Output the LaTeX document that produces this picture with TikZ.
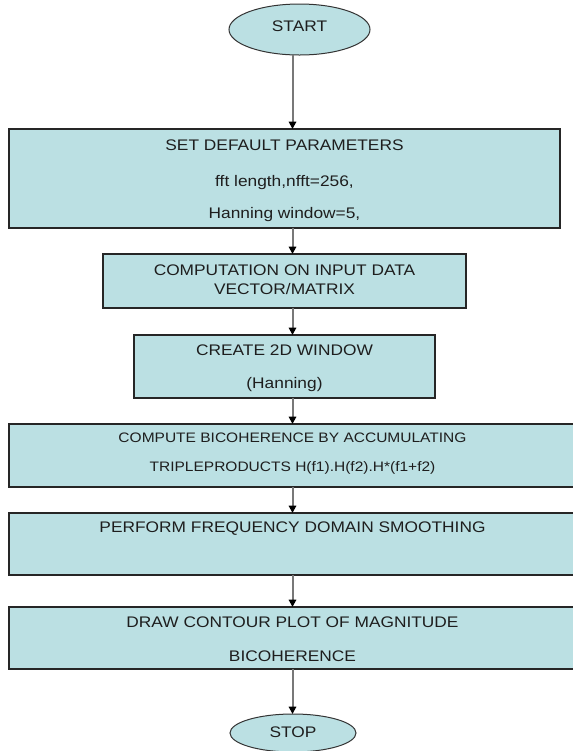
\documentclass[tikz,border=0pt]{standalone}
\usepackage{fontspec}
\setmainfont{Liberation Sans}[FakeStretch=1.13]
\usetikzlibrary{shapes.geometric,arrows.meta}
\definecolor{boxfill}{RGB}{187,224,227}
\definecolor{txt}{RGB}{30,30,30}
\definecolor{conn}{RGB}{120,120,120}
\tikzset{
 procbox/.style={draw=black!85, line width=0.9pt, fill=boxfill, rectangle, inner sep=0pt, outer sep=0pt},
 termnode/.style={draw=black!80, line width=0.75pt, fill=boxfill, ellipse, inner sep=0pt, outer sep=0pt},
 lbl/.style={anchor=base, inner sep=0pt, text=txt, font=\fontsize{11.5}{13}\selectfont},
 lblsmall/.style={lbl, font=\fontsize{10.3}{12}\selectfont},
 flow/.style={draw=conn, line width=1.5pt, -{Triangle[length=5.5pt,width=5.5pt,color=black]}}
}
\begin{document}
\begin{tikzpicture}[x=0.75pt,y=-0.75pt]
\useasboundingbox (0,0) rectangle (573,751);
\clip (0,0) rectangle (573,751);
\fill[white] (0,0) rectangle (573,751);
\coordinate (ax) at (292.5,0);
% terminals
\node[termnode, minimum width=105.75pt, minimum height=38.25pt] (start) at (299.5,29.5) {};
\node[termnode, minimum width=94.5pt, minimum height=28.5pt] (stop) at (293,733) {};
% process boxes
\node[procbox, minimum width=413.25pt, minimum height=74.25pt] (b1) at (284.5,178.5) {};
\node[procbox, minimum width=272.25pt, minimum height=40.5pt] (b2) at (284.5,281) {};
\node[procbox, minimum width=225.75pt, minimum height=47.25pt] (b3) at (284.5,366.5) {};
\node[procbox, minimum width=425.25pt, minimum height=47.25pt] (b4) at (292.5,455.5) {};
\node[procbox, minimum width=425.25pt, minimum height=46.5pt] (b5) at (292.5,544) {};
\node[procbox, minimum width=425.25pt, minimum height=46.5pt] (b6) at (292.5,638) {};
% texts
\node[lbl] (tstart) at (299.5,31) {START};
\node[lbl] (tstop) at (293,737.5) {STOP};
\node[lbl] (t1a) at (284.5,150.5) {SET DEFAULT PARAMETERS};
\node[lbl] (t1b) at (284.5,186.5) {fft length,nfft=256,};
\node[lbl] (t1c) at (284.5,218.5) {Hanning window=5,};
\node[lbl] (t2a) at (284.5,275.5) {COMPUTATION ON INPUT DATA};
\node[lbl] (t2b) at (284.5,294.5) {VECTOR/MATRIX};
\node[lbl] (t3a) at (284.5,355.5) {CREATE 2D WINDOW};
\node[lbl] (t3b) at (284.5,388.5) {(Hanning)};
\node[lblsmall] (t4a) at (292.5,442) {COMPUTE BICOHERENCE BY ACCUMULATING};
\node[lblsmall] (t4b) at (292.5,471) {TRIPLEPRODUCTS H(f1).H(f2).H*(f1+f2)};
\node[lbl] (t5a) at (292.5,532.5) {PERFORM FREQUENCY DOMAIN SMOOTHING};
\node[lbl] (t6a) at (292.5,627.5) {DRAW CONTOUR PLOT OF MAGNITUDE};
\node[lbl] (t6b) at (292.5,661.5) {BICOHERENCE};
% connectors
\draw[flow] (start.south -| ax) -- (b1.north -| ax);
\draw[flow] (b1.south -| ax) -- (b2.north -| ax);
\draw[flow] (b2.south -| ax) -- (b3.north -| ax);
\draw[flow] (b3.south -| ax) -- (b4.north -| ax);
\draw[flow] (b4.south -| ax) -- (b5.north -| ax);
\draw[flow] (b5.south -| ax) -- (b6.north -| ax);
\draw[flow] (b6.south -| ax) -- (stop.north -| ax);
\end{tikzpicture}
\end{document}
